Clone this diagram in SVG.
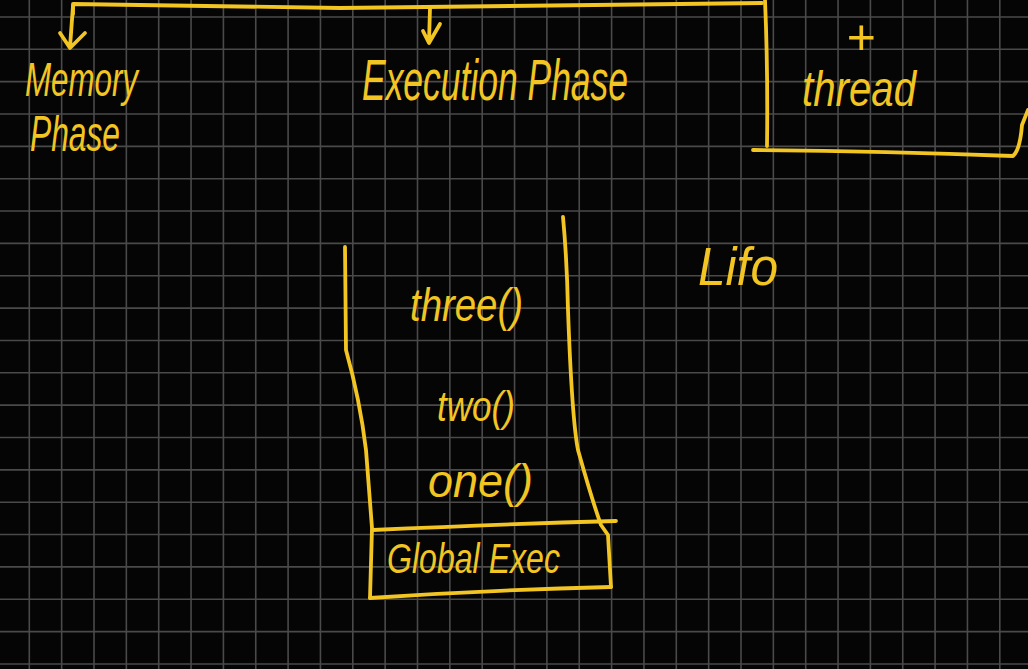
<svg xmlns="http://www.w3.org/2000/svg" width="1028" height="669" viewBox="0 0 1028 669">
<defs>
<style>
.bg{fill:#050505}
.grid{stroke:#4a4a4a;stroke-width:1.6;fill:none}
.ink{stroke:#f2c523;stroke-width:3.8;fill:none;stroke-linecap:round;stroke-linejoin:round}
.hw{fill:#f2c523;font-family:"Liberation Sans",Arial,sans-serif;font-style:italic}
</style>
</defs>
<rect class="bg" x="0" y="0" width="1028" height="669"/>
<path class="grid" d="M29.3,0V669M61.65,0V669M94,0V669M126.35,0V669M158.7,0V669M191.05,0V669M223.4,0V669M255.75,0V669M288.1,0V669M320.45,0V669M352.8,0V669M385.15,0V669M417.5,0V669M449.85,0V669M482.2,0V669M514.55,0V669M546.9,0V669M579.25,0V669M611.6,0V669M643.95,0V669M676.3,0V669M708.65,0V669M741,0V669M773.35,0V669M805.7,0V669M838.05,0V669M870.4,0V669M902.75,0V669M935.1,0V669M967.45,0V669M999.8,0V669M0,16.95H1028M0,49.3H1028M0,81.65H1028M0,114H1028M0,146.35H1028M0,178.7H1028M0,211.05H1028M0,243.4H1028M0,275.75H1028M0,308.1H1028M0,340.45H1028M0,372.8H1028M0,405.15H1028M0,437.5H1028M0,469.85H1028M0,502.2H1028M0,534.55H1028M0,566.9H1028M0,599.25H1028M0,631.6H1028M0,663.95H1028"/>
<g id="connectors">
<path class="ink" d="M73,14 L73,4 Q200,6 340,8 Q520,6 680,4 L762,3"/>
<path class="ink" d="M73,6 L70,47 M60,33 L70,48 L85,33"/>
<path class="ink" d="M430,8 L429,42 M423,31 L429,43 L440,24"/>
</g>
<g id="memory-phase">
<text class="hw" x="25" y="96" font-size="48" textLength="113" lengthAdjust="spacingAndGlyphs">Memory</text>
<text class="hw" x="30" y="151" font-size="50" textLength="90" lengthAdjust="spacingAndGlyphs">Phase</text>
</g>
<g id="execution-phase">
<text class="hw" x="362" y="100" font-size="58" textLength="266" lengthAdjust="spacingAndGlyphs">Execution Phase</text>
</g>
<g id="thread-box">
<path class="ink" d="M765,0 Q768,70 767,146"/>
<path class="ink" d="M753,150 Q880,151 1013,156 Q1020,150 1022,125 L1028,110"/>
<text class="hw" x="846" y="54" font-size="50" font-style="normal">+</text>
<text class="hw" x="802" y="106" font-size="50" textLength="114" lengthAdjust="spacingAndGlyphs">thread</text>
</g>
<g id="lifo">
<text class="hw" x="698" y="285" font-size="54" textLength="80" lengthAdjust="spacingAndGlyphs">Lifo</text>
</g>
<g id="call-stack">
<path class="ink" d="M345,247 L346,350 Q360,400 366,450 L372,528 L370,598"/>
<path class="ink" d="M563,217 Q567,260 568,310 Q572,420 578,450 Q592,500 601,525 L608,535 L611,587"/>
<path class="ink" d="M370,598 Q490,590 611,587"/>
<path class="ink" d="M373,530 Q500,524 616,521"/>
<text class="hw" x="410" y="321" font-size="47" textLength="113" lengthAdjust="spacingAndGlyphs">three()</text>
<text class="hw" x="437" y="421" font-size="42" textLength="78" lengthAdjust="spacingAndGlyphs">two()</text>
<text class="hw" x="428" y="497" font-size="46" textLength="105" lengthAdjust="spacingAndGlyphs">one()</text>
<text class="hw" x="387" y="573" font-size="42" textLength="173" lengthAdjust="spacingAndGlyphs">Global Exec</text>
</g>
</svg>
